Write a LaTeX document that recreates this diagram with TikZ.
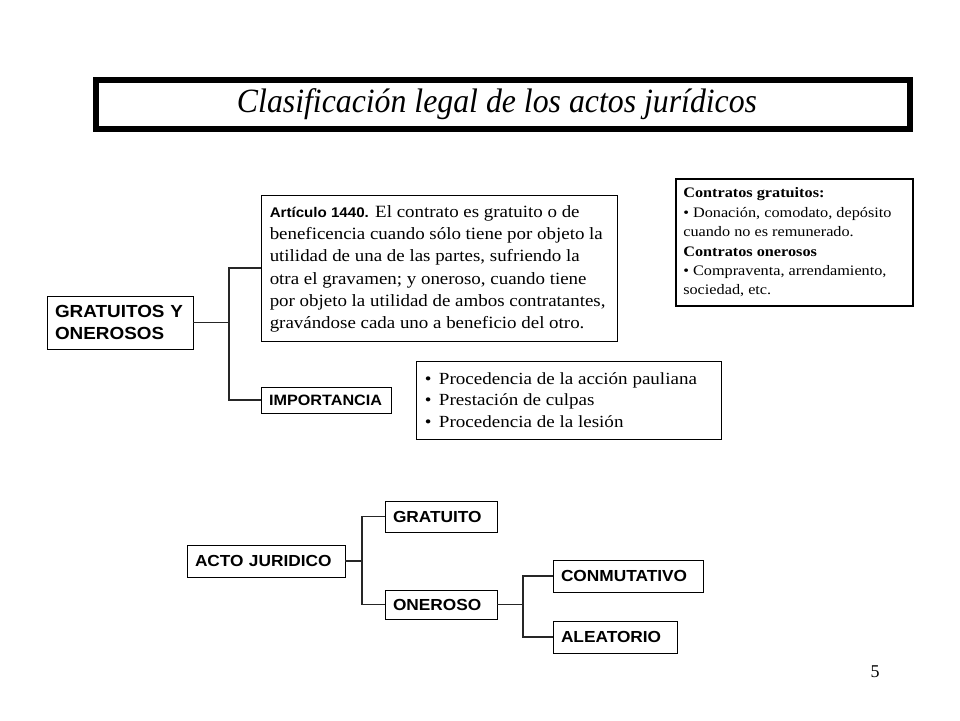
\documentclass[tikz,border=0pt]{standalone}
\usepackage{fontspec}
\setmainfont{Liberation Serif}
\setsansfont{Liberation Sans}
\newfontfamily\wserif[FakeStretch=1.12]{Liberation Serif}
\newfontfamily\aserif[FakeStretch=1.1]{Liberation Serif}
\newfontfamily\wsans[FakeStretch=1.08]{Liberation Sans}
\newfontfamily\tserif[FakeStretch=0.935]{Liberation Serif}
\begin{document}
\begin{tikzpicture}[x=1pt,y=-1pt,
  box/.style={draw=black, line width=0.9pt, inner ysep=0pt, inner xsep=8pt, align=left},
  frame/.style={draw=black, line width=0.9pt, inner sep=0pt},
  txt/.style={inner sep=0pt, align=left, anchor=west},
  lbl/.style={box, font=\wsans\bfseries\fontsize{16}{19}\selectfont},
  conn/.style={line width=1.3pt, draw=black!85}]
\useasboundingbox (0,0) rectangle (960,720);
\fill[white] (0,0) rectangle (960,720);

% title
\node[draw=black, line width=6pt, minimum width=814pt, minimum height=49pt, inner sep=0pt,
      font=\tserif\itshape\fontsize{34}{38}\selectfont] (title) at (503,104.5) {Clasificación legal de los actos jurídicos\kern12pt};

% upper part
\node[lbl, text width=130pt, minimum height=53pt, font=\wsans\bfseries\fontsize{17.5}{22.5}\selectfont] (g) at (120,322.5) {GRATUITOS Y\\ONEROSOS};

\node[frame, minimum width=356pt, minimum height=146pt] (art) at (439,268) {};
\node[txt, font=\aserif\fontsize{17.2}{22.3}\selectfont] (artt) at ([xshift=9pt,yshift=-1pt]art.west)
 {{\wsans\bfseries\fontsize{14}{22}\selectfont Artículo 1440.} El contrato es gratuito o de\\
  beneficencia cuando sólo tiene por objeto la\\
  utilidad de una de las partes, sufriendo la\\
  otra el gravamen; y oneroso, cuando tiene\\
  por objeto la utilidad de ambos contratantes,\\
  gravándose cada uno a beneficio del otro.};

\node[lbl, text width=114pt, minimum height=26pt, font=\wsans\bfseries\fontsize{15}{16}\selectfont] (imp) at (326,400) {IMPORTANCIA};

\node[frame, minimum width=305pt, minimum height=78pt] (bul) at (568.5,400) {};
\node[txt, font=\wserif\fontsize{17}{21.5}\selectfont] (bult) at ([xshift=9pt]bul.west)
 {•\, Procedencia de la acción pauliana\\
  •\, Prestación de culpas\\
  •\, Procedencia de la lesión};

\node[frame, line width=1.8pt, minimum width=237pt, minimum height=127pt] (con) at (794.5,242.5) {};
\node[txt, font=\wserif\fontsize{14.5}{19.4}\selectfont] (cont) at ([xshift=8pt]con.west)
 {\textbf{Contratos gratuitos:}\\
  • Donación, comodato, depósito\\
  cuando no es remunerado.\\
  \textbf{Contratos onerosos}\\
  • Compraventa, arrendamiento,\\
  sociedad, etc.};

\coordinate (j1) at (229,322.5);
\draw[conn] (g.east) -- (j1);
\draw[conn] (art.west) -| (j1) |- (imp.west);

% lower part
\node[lbl, text width=142pt, minimum height=32pt] (acto) at (266,561) {ACTO JURIDICO};
\node[lbl, text width=96pt, minimum height=31pt] (grat) at (441,516.5) {GRATUITO};
\node[lbl, text width=96pt, minimum height=29pt] (oner) at (441,604.5) {ONEROSO};
\node[lbl, text width=134pt, minimum height=32pt] (conm) at (628,576) {CONMUTATIVO};
\node[lbl, text width=108pt, minimum height=32pt] (alea) at (615,637) {ALEATORIO};

\coordinate (j2) at (362,561);
\draw[conn] (acto.east) -- (j2);
\draw[conn] (grat.west) -| (j2) |- (oner.west);
\coordinate (j3) at (523,604.5);
\draw[conn] (oner.east) -- (j3);
\draw[conn] (conm.west) -| (j3) |- (alea.west);

\node[font=\fontsize{18}{20}\selectfont, inner sep=0pt] (pg) at (875,672) {5};
\end{tikzpicture}
\end{document}
